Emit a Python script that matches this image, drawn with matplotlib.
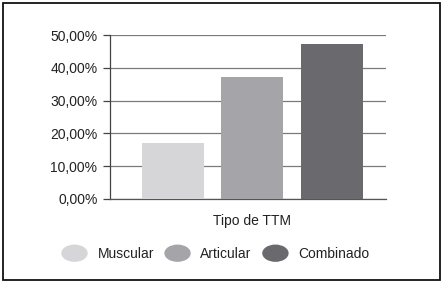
import matplotlib
matplotlib.use("Agg")
import matplotlib.pyplot as plt
from matplotlib.patches import Ellipse, Rectangle
from matplotlib.legend_handler import HandlerPatch
from matplotlib.ticker import FuncFormatter

# Data
categories = ["Muscular", "Articular", "Combinado"]
values = [17.0, 37.2, 47.4]
bar_colors = ["#d6d6d8", "#a5a5a9", "#6a6a6e"]
y_ticks = [0, 10, 20, 30, 40, 50]

plt.rcParams["font.family"] = ["Liberation Sans", "DejaVu Sans"]


class HandlerEllipse(HandlerPatch):
    def create_artists(self, legend, orig_handle, xdescent, ydescent,
                       width, height, fontsize, trans):
        center = (0.5 * width - xdescent, 0.5 * height - ydescent)
        p = Ellipse(xy=center, width=width, height=height * 1.5)
        self.update_prop(p, orig_handle, legend)
        p.set_transform(trans)
        return [p]


fig = plt.figure(figsize=(4.45, 2.85), dpi=100)
ax = fig.add_axes([0.247, 0.302, 0.620, 0.575])

bars = ax.bar(range(len(categories)), values, width=0.78,
              color=bar_colors, zorder=3)

ax.set_ylim(0, 50)
ax.set_xlim(-0.79, 2.68)
ax.set_yticks(y_ticks)
ax.yaxis.set_major_formatter(FuncFormatter(lambda v, p: f"{v:.2f}%".replace(".", ",")))
ax.set_xticks([])
ax.tick_params(axis="y", length=5, width=0.9, color="#444444",
               labelsize=10, pad=4, labelcolor="#222222")

ax.grid(axis="y", color="#7a7a7a", linewidth=0.9, zorder=0)
for side in ["top", "right"]:
    ax.spines[side].set_visible(False)
ax.spines["left"].set_color("#444444")
ax.spines["bottom"].set_color("#555555")
ax.spines["left"].set_linewidth(0.9)
ax.spines["bottom"].set_linewidth(0.9)

fig.text(252 / 445, 1 - 221 / 285, "Tipo de TTM", ha="center", va="center",
         fontsize=10, color="#222222")

handles = [Ellipse((0, 0), 1, 1, facecolor=c, edgecolor="none") for c in bar_colors]
fig.legend(handles, categories, loc="center", ncol=3,
           bbox_to_anchor=(0.484, 1 - 254 / 285), frameon=False,
           fontsize=10, handlelength=1.9, handleheight=0.9,
           handletextpad=0.7, columnspacing=0.75,
           handler_map={Ellipse: HandlerEllipse()}, labelcolor="#222222")

# outer frame
fig.patches.append(Rectangle((3 / 445, 5 / 285), 437 / 445, 277 / 285,
                             transform=fig.transFigure, fill=False,
                             edgecolor="#111111", linewidth=1.3))

fig.savefig("out.png", dpi=100)
